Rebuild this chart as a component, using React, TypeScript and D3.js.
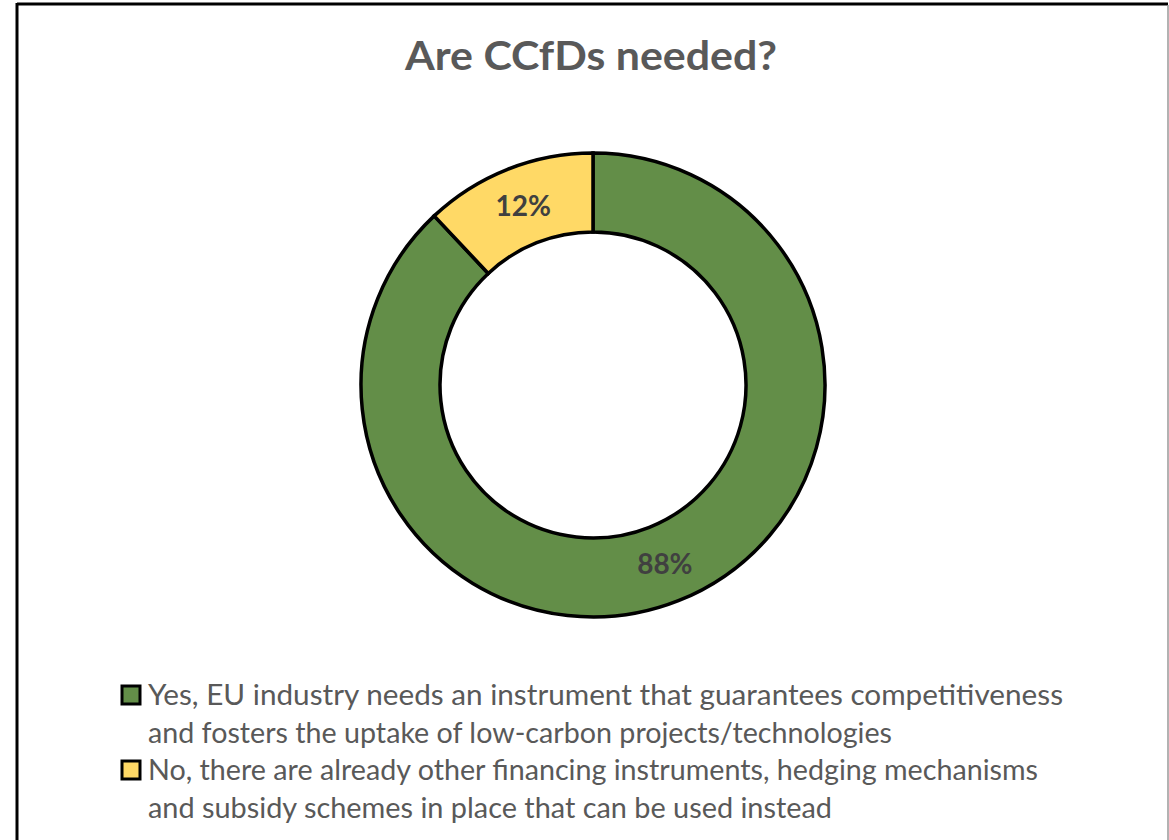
import React from "react";
import * as d3 from "d3";

const categories = ["Yes", "No"];
const values = [88, 12];
const labels = ["88%", "12%"];
const colors = ["#638E48", "#FFD966"];
const legendLines = [
  ["Yes, EU industry needs an instrument that guarantees competitiveness", "and fosters the uptake of low-carbon projects/technologies"],
  ["No, there are already other financing instruments, hedging mechanisms", "and subsidy schemes in place that can be used instead"],
];
const legendWidths = [[915, 744], [890, 684]];
const title = "Are CCfDs needed?";

export default function App() {
  const W = 1169, H = 840;
  const cx = 593, cy = 385, rO = 232, rI = 153;
  const pie = d3.pie<number>().sort(null).value((d) => d)(values);
  const arc = d3.arc<d3.PieArcDatum<number>>().outerRadius(rO).innerRadius(rI);
  const font = "Lato, 'Open Sans', sans-serif";
  return (
    <svg width={W} height={H} style={{ position: "absolute", left: 0, top: 0 }}>
      <rect x={0} y={0} width={W} height={H} fill="#fff" />
      <line x1={17} y1={4} x2={1168} y2={4} stroke="#000" strokeWidth={3} />
      <line x1={17} y1={3} x2={17} y2={H} stroke="#000" strokeWidth={3} />
      <line x1={1168} y1={5} x2={1168} y2={H} stroke="#999" strokeWidth={1.5} />
      <text x={591} y={70} textAnchor="middle" fontFamily={font} fontWeight="bold" fontSize={41} fill="#595959" textLength={372} lengthAdjust="spacingAndGlyphs">{title}</text>
      <g transform={`translate(${cx},${cy})`}>
        {pie.map((p, i) => (
          <path key={categories[i]} d={arc(p) || ""} fill={colors[i]} stroke="#000" strokeWidth={3.5} strokeLinejoin="miter" />
        ))}
        {pie.map((p, i) => {
          const [x, y] = arc.centroid(p);
          return (
            <text key={"l" + i} x={x + 1} y={y + 10} textAnchor="middle" fontFamily={font} fontWeight="bold" fontSize={28} fill="#404040">{labels[i]}</text>
          );
        })}
      </g>
      {legendLines.map((lines, i) => {
        const y0 = 705 + i * 75;
        return (
          <g key={"lg" + i}>
            <rect x={122} y={y0 - 19} width={18} height={18} fill={colors[i]} stroke="#000" strokeWidth={3} />
            {lines.map((t, j) => (
              <text key={j} x={148} y={y0 + j * 38} fontFamily={font} fontSize={28} fill="#595959" textLength={legendWidths[i][j]} lengthAdjust="spacingAndGlyphs">{t}</text>
            ))}
          </g>
        );
      })}
    </svg>
  );
}
